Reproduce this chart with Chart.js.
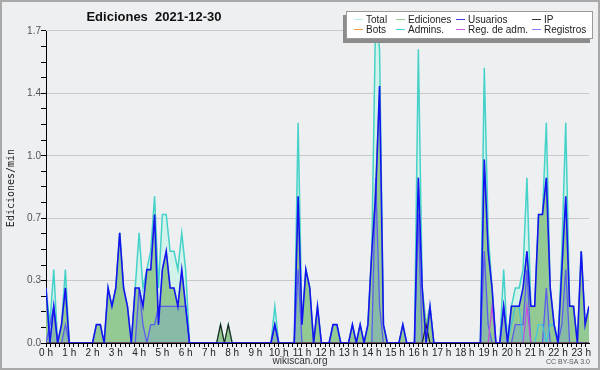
<!DOCTYPE html>
<html>
<head>
<meta charset="utf-8">
<title>Ediciones 2021-12-30</title>
<script src="https://cdn.jsdelivr.net/npm/chart.js"></script>
<style>
  body { margin: 0; background: #eeeff1; }
  canvas { display: block; }
</style>
</head>
<body>
<canvas id="chart" width="600" height="370"></canvas>
<script>
// edits per minute, one value per 10-minute bucket, 0:00 -> 23:20
const total = [
  0.3, 0.1, 0.4, 0, 0.1, 0.4,   // 0 h
  0, 0, 0, 0, 0, 0,
  0, 0.1, 0.1, 0, 0.3, 0.2,     // 2 h
  0.3, 0.6, 0.3, 0.2, 0, 0.3,
  0.6, 0.3, 0.4, 0.5, 0.8, 0.3, // 4 h
  0.7, 0.7, 0.5, 0.5, 0.4, 0.6,
  0.4, 0, 0, 0, 0, 0,           // 6 h
  0, 0, 0, 0.1, 0, 0.1,
  0, 0, 0, 0, 0, 0,             // 8 h
  0, 0, 0, 0, 0, 0.2,
  0, 0, 0, 0, 0, 1.2,           // 10 h
  0.1, 0.4, 0.3, 0, 0.2, 0,
  0, 0, 0.1, 0.1, 0, 0,         // 12 h
  0, 0.1, 0, 0.1, 0, 0.1,
  0.5, 1.8, 1.6, 0.1, 0, 0,     // 14 h
  0, 0, 0.1, 0, 0, 0,
  1.6, 0.3, 0.1, 0.2, 0, 0,     // 16 h
  0, 0, 0, 0, 0, 0,
  0, 0, 0, 0, 0, 1.5,           // 18 h
  0.6, 0.3, 0, 0, 0.4, 0,
  0.2, 0.3, 0.3, 0.4, 0.9, 0.2, // 20 h
  0.2, 0.7, 0.7, 1.2, 0.3, 0.1,
  0, 0.5, 1.2, 0.2, 0.2, 0,     // 22 h
  0.5, 0.1, 0.2
];
const ediciones = [
  0.3, 0, 0.2, 0, 0.1, 0.3,
  0, 0, 0, 0, 0, 0,
  0, 0.1, 0.1, 0, 0.3, 0.2,
  0.3, 0.6, 0.3, 0.2, 0, 0.3,
  0.3, 0.2, 0.4, 0.4, 0.7, 0.1,
  0.4, 0.5, 0.3, 0.3, 0.2, 0.4,
  0.2, 0, 0, 0, 0, 0,
  0, 0, 0, 0.1, 0, 0.1,
  0, 0, 0, 0, 0, 0,
  0, 0, 0, 0, 0, 0.1,
  0, 0, 0, 0, 0, 0.8,
  0.1, 0.4, 0.3, 0, 0.2, 0,
  0, 0, 0.1, 0.1, 0, 0,
  0, 0.1, 0, 0.1, 0, 0.1,
  0.5, 0.9, 1.4, 0.1, 0, 0,
  0, 0, 0.1, 0, 0, 0,
  0.9, 0.3, 0.1, 0.2, 0, 0,
  0, 0, 0, 0, 0, 0,
  0, 0, 0, 0, 0, 1.0,
  0.5, 0.3, 0, 0, 0.2, 0,
  0.2, 0.2, 0.2, 0.3, 0.5, 0.2,
  0.2, 0.7, 0.7, 0.9, 0.3, 0.1,
  0, 0.4, 0.8, 0.2, 0.2, 0,
  0.5, 0.1, 0.2
];
const usuarios = [
  0.3, 0, 0.2, 0, 0.1, 0.3,
  0, 0, 0, 0, 0, 0,
  0, 0.1, 0.1, 0, 0.3, 0.2,
  0.3, 0.6, 0.3, 0.2, 0, 0.3,
  0.3, 0.2, 0.4, 0.4, 0.7, 0.1,
  0.4, 0.5, 0.3, 0.3, 0.2, 0.4,
  0.2, 0, 0, 0, 0, 0,
  0, 0, 0, 0, 0, 0,
  0, 0, 0, 0, 0, 0,
  0, 0, 0, 0, 0, 0.1,
  0, 0, 0, 0, 0, 0.8,
  0.1, 0.4, 0.3, 0, 0.2, 0,
  0, 0, 0.1, 0.1, 0, 0,
  0, 0.1, 0, 0.1, 0, 0.1,
  0.5, 0.8, 1.4, 0.1, 0, 0,
  0, 0, 0.1, 0, 0, 0,
  0.9, 0.3, 0, 0.2, 0, 0,
  0, 0, 0, 0, 0, 0,
  0, 0, 0, 0, 0, 1.0,
  0.5, 0.3, 0, 0, 0.2, 0,
  0.2, 0.2, 0.2, 0.3, 0.5, 0.2,
  0.2, 0.7, 0.7, 0.9, 0.3, 0.1,
  0, 0.4, 0.8, 0.2, 0.2, 0,
  0.5, 0.1, 0.2
];
const ip = [
  0, 0, 0, 0, 0, 0,
  0, 0, 0, 0, 0, 0,
  0, 0, 0, 0, 0, 0,
  0, 0, 0, 0, 0, 0,
  0, 0, 0, 0, 0, 0,
  0, 0, 0, 0, 0, 0,
  0, 0, 0, 0, 0, 0,
  0, 0, 0, 0.1, 0, 0.1,
  0, 0, 0, 0, 0, 0,
  0, 0, 0, 0, 0, 0,
  0, 0, 0, 0, 0, 0,
  0, 0, 0, 0, 0, 0,
  0, 0, 0, 0, 0, 0,
  0, 0, 0, 0, 0, 0,
  0, 0, 0, 0, 0, 0,
  0, 0, 0, 0, 0, 0,
  0, 0, 0.1, 0, 0, 0,
  0, 0, 0, 0, 0, 0,
  0, 0, 0, 0, 0, 0,
  0, 0, 0, 0, 0, 0,
  0, 0, 0, 0, 0, 0,
  0, 0, 0, 0, 0, 0,
  0, 0, 0, 0, 0, 0,
  0, 0, 0
];
const bots = [
  0, 0, 0, 0, 0, 0,  0, 0, 0, 0, 0, 0,  0, 0, 0, 0, 0, 0,  0, 0, 0, 0, 0, 0,
  0, 0, 0, 0, 0, 0,  0, 0, 0, 0, 0, 0,  0, 0, 0, 0, 0, 0,  0, 0, 0, 0, 0, 0,
  0, 0, 0, 0, 0, 0,  0, 0, 0, 0, 0, 0,  0, 0, 0, 0, 0, 0,  0, 0, 0, 0, 0, 0,
  0, 0, 0, 0, 0, 0,  0, 0, 0, 0, 0, 0,  0, 0, 0, 0, 0, 0,  0, 0, 0, 0, 0, 0,
  0, 0, 0, 0, 0, 0,  0, 0, 0, 0, 0, 0,  0, 0, 0, 0, 0, 0,  0, 0, 0, 0, 0, 0,
  0, 0, 0, 0, 0, 0,  0, 0, 0, 0, 0, 0,  0, 0, 0, 0, 0, 0,  0, 0, 0
];
const admins = [
  0, 0, 0, 0, 0, 0,  0, 0, 0, 0, 0, 0,  0, 0, 0, 0, 0, 0,  0, 0, 0, 0, 0, 0,
  0, 0, 0, 0, 0, 0,  0, 0, 0, 0, 0, 0,  0, 0, 0, 0, 0, 0,  0, 0, 0, 0, 0, 0,
  0, 0, 0, 0, 0, 0,  0, 0, 0, 0, 0, 0,  0, 0, 0, 0, 0, 0,  0, 0, 0, 0, 0, 0,
  0, 0, 0.1, 0.1, 0, 0,  0, 0, 0, 0, 0, 0,  0, 0, 0, 0, 0, 0,  0, 0, 0, 0, 0, 0,
  0, 0, 0, 0, 0, 0,  0, 0, 0, 0, 0, 0,  0, 0, 0, 0, 0, 0,  0, 0, 0, 0, 0, 0,
  0.1, 0.2, 0.2, 0, 0, 0,  0, 0.1, 0.1, 0, 0.1, 0.1,  0, 0, 0, 0, 0, 0,  0, 0, 0
];
const regAdm = [
  0, 0, 0, 0, 0, 0,  0, 0, 0, 0, 0, 0,  0, 0, 0, 0, 0, 0,  0, 0, 0, 0, 0, 0,
  0, 0, 0, 0, 0, 0,  0, 0, 0, 0, 0, 0,  0, 0, 0, 0, 0, 0,  0, 0, 0, 0, 0, 0,
  0, 0, 0, 0, 0, 0,  0, 0, 0, 0, 0, 0,  0, 0, 0, 0, 0, 0,  0, 0, 0, 0, 0, 0,
  0, 0, 0, 0, 0, 0,  0, 0, 0, 0, 0, 0,  0, 0, 0, 0, 0, 0,  0, 0, 0, 0, 0, 0,
  0, 0, 0, 0, 0, 0,  0, 0, 0, 0, 0, 0,  0, 0, 0, 0, 0, 0,  0, 0.2, 0, 0, 0, 0,
  0, 0, 0, 0, 0.2, 0,  0, 0, 0, 0, 0, 0,  0, 0, 0, 0, 0, 0,  0, 0, 0
];
const registros = [
  0, 0.1, 0.2, 0, 0, 0.1,
  0, 0, 0, 0, 0, 0,
  0, 0, 0, 0, 0, 0,
  0, 0, 0, 0, 0, 0,
  0.3, 0.1, 0, 0.1, 0.1, 0.2,
  0.2, 0.2, 0.2, 0.2, 0.2, 0.2,
  0.2, 0, 0, 0, 0, 0,
  0, 0, 0, 0, 0, 0,
  0, 0, 0, 0, 0, 0,
  0, 0, 0, 0, 0, 0.1,
  0, 0, 0, 0, 0, 0.4,
  0, 0, 0, 0, 0, 0,
  0, 0, 0, 0, 0, 0,
  0, 0, 0, 0, 0, 0,
  0, 0.9, 0.2, 0, 0, 0,
  0, 0, 0, 0, 0, 0,
  0.7, 0, 0, 0, 0, 0,
  0, 0, 0, 0, 0, 0,
  0, 0, 0, 0, 0, 0.5,
  0.1, 0, 0, 0, 0.2, 0,
  0, 0.1, 0.1, 0.1, 0.4, 0,
  0, 0, 0, 0.3, 0, 0,
  0, 0.1, 0.4, 0, 0, 0,
  0, 0, 0
];

// bucket start times in hours
const hours = total.map((_, i) => i / 6);
const yMajor = [0, 0.34, 0.68, 1.02, 1.36, 1.7];

const seriesNames = ['Total', 'Ediciones', 'Usuarios', 'IP', 'Bots', 'Admins.', 'Reg. de adm.', 'Registros'];
const seriesColors = ['#45d2c8', '#7cc47c', '#1414f2', '#222222', '#f5a142', '#3cc6e0', '#c84ce0', '#5c5cee'];
const legendColors = ['#b4ecea', '#8fd08f', '#3b3be6', '#333333', '#f5a142', '#45cfe0', '#cc55e0', '#8080f0'];

const FONT = '"Liberation Sans", Arial, sans-serif';

const decorations = {
  id: 'decorations',
  beforeDraw(chart) {
    const c = chart.ctx;
    c.save();
    c.fillStyle = '#eeeff1';
    c.fillRect(0, 0, chart.width, chart.height);
    c.restore();
  },
  afterDraw(chart) {
    const c = chart.ctx;
    c.save();
    // outer frame
    c.strokeStyle = '#a9a9a9';
    c.lineWidth = 2;
    c.strokeRect(1, 1, chart.width - 2, chart.height - 2);

    // title
    c.fillStyle = '#111';
    c.font = 'bold 13px ' + FONT;
    c.textAlign = 'center';
    c.textBaseline = 'middle';
    c.fillText('Ediciones  2021-12-30', 154, 17);

    // y axis title
    c.save();
    c.translate(11, 188);
    c.rotate(-Math.PI / 2);
    c.font = '10px "DejaVu Sans Mono", monospace';
    c.fillStyle = '#222';
    c.fillText('Ediciones/min', 0, 0);
    c.restore();

    // footer
    c.font = '10px ' + FONT;
    c.fillStyle = '#333';
    c.fillText('wikiscan.org', 300, 361);
    c.font = '7px ' + FONT;
    c.fillStyle = '#555';
    c.textAlign = 'right';
    c.fillText('CC BY-SA 3.0', 590, 362);

    // legend box with shadow
    c.fillStyle = '#8c8c8c';
    c.fillRect(343, 15, 247, 28);
    c.fillStyle = '#ffffff';
    c.fillRect(346, 11, 247, 28);
    c.strokeStyle = '#9a9a9a';
    c.lineWidth = 1;
    c.strokeRect(346.5, 11.5, 246, 27);

    const cols = [366, 408, 468, 544];
    const rows = [19.5, 29.5];
    c.font = '10px ' + FONT;
    c.textAlign = 'left';
    seriesNames.forEach((name, k) => {
      const x = cols[k % 4], y = rows[Math.floor(k / 4)];
      c.strokeStyle = legendColors[k];
      c.lineWidth = 1;
      c.beginPath();
      c.moveTo(x - 12, y);
      c.lineTo(x - 3, y);
      c.stroke();
      c.fillStyle = '#222';
      c.fillText(name, x, y + 0.5);
    });
    c.restore();
  }
};

function line(k, data, extra) {
  return Object.assign({
    label: seriesNames[k],
    data: data,
    borderColor: seriesColors[k],
    borderWidth: 1.2,
    pointRadius: 0,
    tension: 0,
    fill: false
  }, extra);
}

new Chart(document.getElementById('chart'), {
  type: 'line',
  data: {
    labels: hours,
    datasets: [
      line(0, total, { order: 8, borderWidth: 1.5, fill: 'origin', backgroundColor: 'rgba(206,242,234,0.85)' }),
      line(1, ediciones, { order: 7, borderWidth: 1, fill: 'origin', backgroundColor: '#93c993' }),
      line(7, registros, { order: 6, borderWidth: 1.3, fill: 'origin', backgroundColor: 'rgba(108,154,215,0.3)' }),
      line(5, admins, { order: 5 }),
      line(4, bots, { order: 4 }),
      line(6, regAdm, { order: 3 }),
      line(3, ip, { order: 2 }),
      line(2, usuarios, { order: 1, borderWidth: 1.6 })
    ]
  },
  options: {
    responsive: false,
    animation: false,
    devicePixelRatio: 1,
    layout: { padding: { top: 31, right: 11, left: 0, bottom: 0 } },
    plugins: { legend: { display: false }, tooltip: { enabled: false } },
    scales: {
      x: {
        type: 'linear',
        min: 0,
        max: 140 / 6,
        z: 1,
        afterFit(s) { s.height = 27; },
        afterBuildTicks(s) {
          const t = [];
          for (let k = 0; k <= 116; k++) t.push({ value: k / 5 });
          s.ticks = t;
        },
        grid: { drawOnChartArea: false, tickLength: 4, color: '#000', tickColor: '#000' },
        border: { color: '#000', width: 1 },
        ticks: {
          autoSkip: false,
          maxRotation: 0,
          minRotation: 0,
          padding: 0,
          color: '#222',
          font: { family: FONT, size: 10 },
          callback(v, i) { return i % 5 === 0 ? (i / 5) + ' h' : ''; }
        }
      },
      y: {
        min: 0,
        max: 1.7,
        afterFit(s) { s.width = 46; },
        afterBuildTicks(s) {
          const t = [];
          for (let k = 0; k <= 20; k++) t.push({ value: k * 0.085 });
          s.ticks = t;
        },
        grid: {
          tickLength: 5,
          color: ctx => (ctx.index % 4 === 0 && ctx.index > 0) ? '#c9c9c9' : 'rgba(0,0,0,0)',
          tickColor: '#000'
        },
        border: { color: '#000', width: 1 },
        ticks: {
          autoSkip: false,
          padding: 0,
          color: '#555',
          font: { family: FONT, size: 10 },
          callback(v, i) { return i % 4 === 0 ? yMajor[i / 4].toFixed(1) : ''; }
        }
      }
    }
  },
  plugins: [decorations]
});
</script>
</body>
</html>
